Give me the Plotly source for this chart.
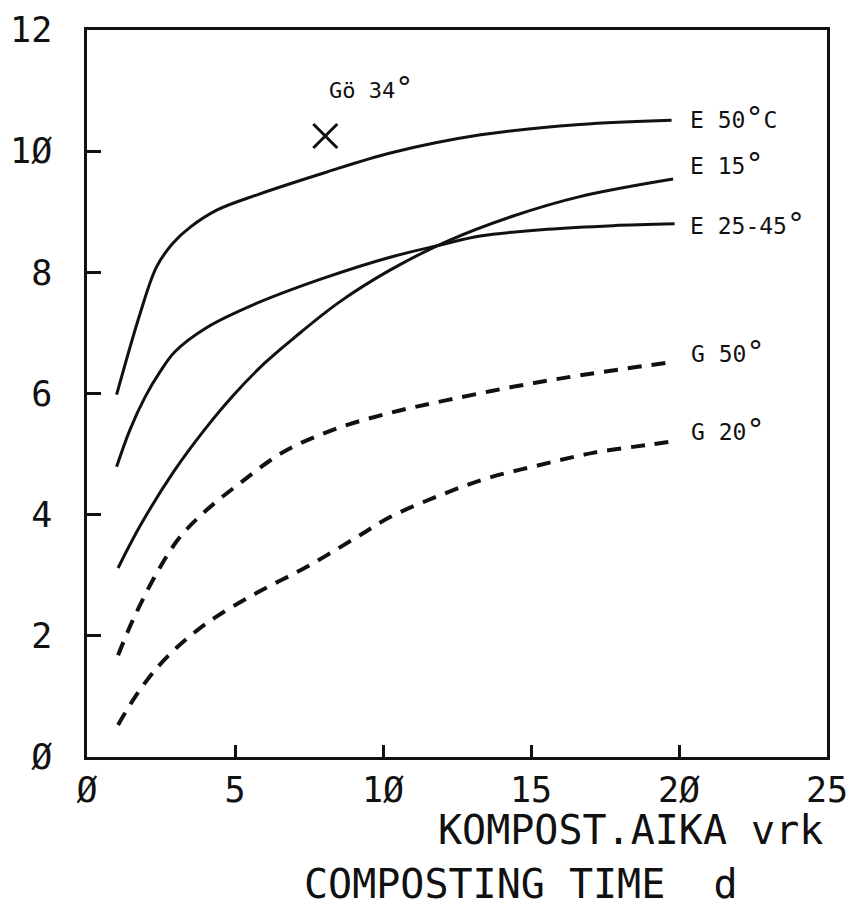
import plotly.graph_objects as go

# ---- data ----
e50_x = [1.0, 1.8, 2.35, 2.9, 3.5, 4.4, 5.75, 8.0, 10.25, 13.3, 16.65, 19.75]
e50_y = [5.98, 7.33, 8.09, 8.48, 8.75, 9.03, 9.28, 9.64, 9.97, 10.27, 10.44, 10.51]

e2545_x = [1.0, 1.45, 1.96, 2.47, 2.97, 4.05, 5.74, 7.97, 10.24, 11.93, 13.28, 15.54, 17.77, 19.85]
e2545_y = [4.79, 5.40, 5.94, 6.36, 6.69, 7.09, 7.49, 7.90, 8.25, 8.45, 8.60, 8.71, 8.77, 8.80]

e15_x = [1.05, 1.8, 2.9, 4.0, 5.0, 6.0, 7.0, 8.5, 10.25, 12.2, 14.4, 16.65, 19.8]
e15_y = [3.12, 3.82, 4.69, 5.42, 6.00, 6.50, 6.92, 7.50, 8.04, 8.52, 8.93, 9.25, 9.54]

g50_x = [1.05, 1.55, 2.36, 3.14, 4.05, 5.17, 6.62, 8.31, 10.24, 12.16, 14.39, 16.66, 19.8]
g50_y = [1.68, 2.26, 3.04, 3.63, 4.08, 4.52, 5.03, 5.40, 5.68, 5.89, 6.11, 6.30, 6.52]

g20_x = [1.05, 1.79, 2.70, 4.05, 5.74, 7.43, 9.12, 10.24, 11.93, 13.51, 15.30, 17.09, 18.92, 19.8]
g20_y = [0.53, 1.11, 1.65, 2.21, 2.71, 3.14, 3.63, 3.96, 4.32, 4.60, 4.82, 5.02, 5.15, 5.21]

go34_x = [8.05]
go34_y = [10.25]

DEG = '<span style="font-size:30px">°</span>'
curve_labels = ["E 50" + DEG + "C", "E 15" + DEG, "E 25-45" + DEG, "G 50" + DEG, "G 20" + DEG]
label_x = [20.3, 20.3, 20.3, 20.35, 20.35]
label_y = [10.56, 9.80, 8.81, 6.69, 5.40]
go34_label = "Gö 34" + DEG

x_tickvals = [0, 5, 10, 15, 20, 25]
x_ticktext = ["Ø", "5", "1Ø", "15", "2Ø", "25"]
y_tickvals = [0, 2, 4, 6, 8, 10, 12]
y_ticktext = ["Ø", "2", "4", "6", "8", "1Ø", "12"]

FONT = "DejaVu Sans Mono, Liberation Mono, monospace"
INK = "#111111"

fig = go.Figure()

solid = dict(color=INK, width=3, shape="spline", smoothing=1.0)
dashed = dict(color=INK, width=4, shape="spline", smoothing=1.0, dash="14px,10px")

fig.add_trace(go.Scatter(x=e50_x, y=e50_y, mode="lines", line=solid, showlegend=False))
fig.add_trace(go.Scatter(x=e2545_x, y=e2545_y, mode="lines", line=solid, showlegend=False))
fig.add_trace(go.Scatter(x=e15_x, y=e15_y, mode="lines", line=solid, showlegend=False))
fig.add_trace(go.Scatter(x=g50_x, y=g50_y, mode="lines", line=dashed, showlegend=False))
fig.add_trace(go.Scatter(x=g20_x, y=g20_y, mode="lines", line=dashed, showlegend=False))
fig.add_trace(go.Scatter(x=go34_x, y=go34_y, mode="markers",
                         marker=dict(symbol="x-thin-open", size=24, color=INK,
                                     line=dict(color=INK, width=3)),
                         showlegend=False))

annotations = []
for t, lx, ly in zip(curve_labels, label_x, label_y):
    annotations.append(dict(x=lx, y=ly, xref="x", yref="y", text=t, showarrow=False,
                            xanchor="left", yanchor="middle",
                            font=dict(family=FONT, size=23, color=INK)))
annotations.append(dict(x=8.1, y=11.05, xref="x", yref="y", text=go34_label, showarrow=False,
                        xanchor="left", yanchor="middle",
                        font=dict(family=FONT, size=22, color=INK)))
annotations.append(dict(x=0.997, y=-0.1, xref="paper", yref="paper",
                        text="KOMPOST.AIKA vrk", showarrow=False,
                        xanchor="right", yanchor="middle",
                        font=dict(family=FONT, size=40, color=INK)))
annotations.append(dict(x=0.2905, y=-0.1747, xref="paper", yref="paper",
                        text="COMPOSTING TIME\u00a0\u00a0d", showarrow=False,
                        xanchor="left", yanchor="middle",
                        font=dict(family=FONT, size=40, color=INK)))

# page body adds an 8px offset, so the figure is 8px smaller and margins shifted
fig.update_layout(
    width=848, height=901,
    margin=dict(l=79, r=29, t=22, b=152, autoexpand=False),
    paper_bgcolor="white", plot_bgcolor="white",
    annotations=annotations,
    font=dict(family=FONT, color=INK),
)
fig.update_xaxes(range=[0, 25], tickvals=x_tickvals, ticktext=x_ticktext,
                 showgrid=False, zeroline=False, showline=True, mirror=True,
                 linecolor=INK, linewidth=2.5, ticks="inside", ticklen=12,
                 tickwidth=2.5, tickcolor=INK, ticklabelstandoff=0, automargin=False,
                 tickfont=dict(family=FONT, size=35, color=INK))
fig.update_yaxes(range=[0, 12], tickvals=y_tickvals, ticktext=y_ticktext,
                 showgrid=False, zeroline=False, showline=True, mirror=True,
                 linecolor=INK, linewidth=2.5, ticks="inside", ticklen=14,
                 tickwidth=2.5, tickcolor=INK, ticklabelstandoff=25, automargin=False,
                 tickfont=dict(family=FONT, size=35, color=INK))

fig.write_html("out.html")
